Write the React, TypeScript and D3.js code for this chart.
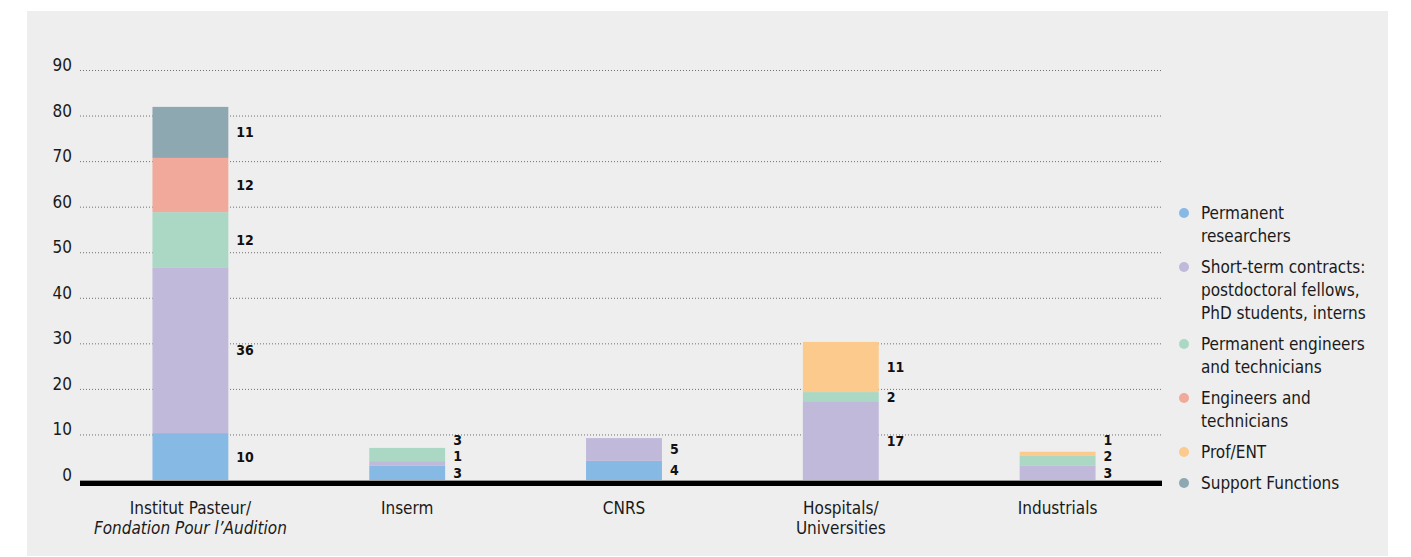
import * as d3 from 'd3'

// categories (each entry = label lines)
const categoryLines = [
  ['Institut Pasteur/', 'Fondation Pour l’Audition'],
  ['Inserm'],
  ['CNRS'],
  ['Hospitals/', 'Universities'],
  ['Industrials'],
]
const italicLines = ['Fondation Pour l’Audition']

// series values (bottom to top)
const permanentResearchers = [10.3, 3.1, 4.2, 0, 0]
const shortTermContracts = [36.4, 1.05, 5.0, 17.3, 3.1]
const permanentEngineers = [12.1, 2.9, 0, 2.0, 2.2]
const engineersTechnicians = [11.9, 0, 0, 0, 0]
const profEnt = [0, 0, 0, 11.0, 0.9]
const supportFunctions = [11.2, 0, 0, 0, 0]

const yTicks = [0, 10, 20, 30, 40, 50, 60, 70, 80, 90]

const series = [
  { key: 'researchers', lines: ['Permanent', 'researchers'], values: permanentResearchers, color: '#87b9e5' },
  { key: 'short', lines: ['Short-term contracts:', 'postdoctoral fellows,', 'PhD students, interns'], values: shortTermContracts, color: '#c0b9da' },
  { key: 'permEng', lines: ['Permanent engineers', 'and technicians'], values: permanentEngineers, color: '#abd8c5' },
  { key: 'eng', lines: ['Engineers and', 'technicians'], values: engineersTechnicians, color: '#f0a99a' },
  { key: 'prof', lines: ['Prof/ENT'], values: profEnt, color: '#fbca8c' },
  { key: 'support', lines: ['Support Functions'], values: supportFunctions, color: '#8ea8b2' },
]

const W = 1411
const H = 557
const FONT = "'DejaVu Sans Condensed', 'Liberation Sans Narrow', 'Liberation Sans', sans-serif"

export default function App() {
  const x = d3.scaleBand<number>()
    .domain(categoryLines.map((_, i) => i))
    .range([82, 1166])
    .paddingInner(0.65)
    .paddingOuter(0.325)
  const y = d3.scaleLinear().domain([0, 90]).range([480, 70])

  const rows = categoryLines.map((_, i) => {
    const r: Record<string, number> = { i }
    series.forEach(s => { r[s.key] = s.values[i] })
    return r
  })
  const stacked = d3.stack<Record<string, number>>().keys(series.map(s => s.key))(rows)

  // value labels, pushed up when they would overlap
  const labels: { x: number; y: number; text: string }[] = []
  categoryLines.forEach((_, i) => {
    let prev = Infinity
    stacked.forEach(layer => {
      const [a, b] = layer[i]
      if (b - a <= 0) return
      let ly = (y(a) + y(b)) / 2
      ly = Math.min(ly, prev - 16.5)
      prev = ly
      labels.push({ x: x(i)! + x.bandwidth() + 8, y: ly, text: String(Math.round(b - a)) })
    })
  })

  // legend layout
  const lineH = 23
  let ly = 213
  const legend = series.map(s => {
    const item = { ...s, y: ly }
    ly += s.lines.length * lineH + 8
    return item
  })

  return (
    <svg width={W} height={H} style={{ position: 'absolute', left: 0, top: 0, display: 'block' }} fontFamily={FONT}>
      <rect x={27} y={11} width={1361} height={545} fill="#eeeeee" />

      {/* grid + y ticks */}
      {yTicks.map(t => (
        <g key={t}>
          {t > 0 && (
            <line x1={80} x2={1162} y1={y(t) + 0.5} y2={y(t) + 0.5} stroke="#707070" strokeWidth={1} strokeDasharray="1,2" />
          )}
          <text x={72} y={y(t) - 5} textAnchor="end" dominantBaseline="central" fontSize={17} fill="#1a1a1a">{t}</text>
        </g>
      ))}

      {/* bars */}
      {stacked.map((layer, li) => (
        <g key={layer.key} fill={series[li].color}>
          {layer.map((d, i) => d[1] - d[0] > 0 && (
            <rect key={i} x={x(i)} width={x.bandwidth()} y={y(d[1])} height={y(d[0]) - y(d[1])} />
          ))}
        </g>
      ))}

      {/* baseline */}
      <line x1={80} x2={1162} y1={480.5} y2={480.5} stroke="#999" strokeWidth={1} />
      <rect x={80} y={481} width={1082} height={5} fill="#000" />

      {labels.map((l, k) => (
        <text key={k} x={l.x} y={l.y} dominantBaseline="central" fontSize={14} fontWeight="bold" fill="#111">{l.text}</text>
      ))}

      {/* x labels */}
      {categoryLines.map((lines, i) => (
        <text key={i} x={x(i)! + x.bandwidth() / 2} textAnchor="middle" fontSize={17} fill="#1a1a1a">
          {lines.map((ln, k) => (
            <tspan key={k} x={x(i)! + x.bandwidth() / 2} y={508 + k * 20} dominantBaseline="central"
              fontStyle={italicLines.includes(ln) ? 'italic' : 'normal'}>{ln}</tspan>
          ))}
        </text>
      ))}

      {/* legend */}
      {legend.map(s => (
        <g key={s.key}>
          <circle cx={1184} cy={s.y} r={5} fill={s.color} />
          <text fontSize={17} fill="#1a1a1a">
            {s.lines.map((ln, k) => (
              <tspan key={k} x={1201} y={s.y + k * lineH} dominantBaseline="central">{ln}</tspan>
            ))}
          </text>
        </g>
      ))}
    </svg>
  )
}
